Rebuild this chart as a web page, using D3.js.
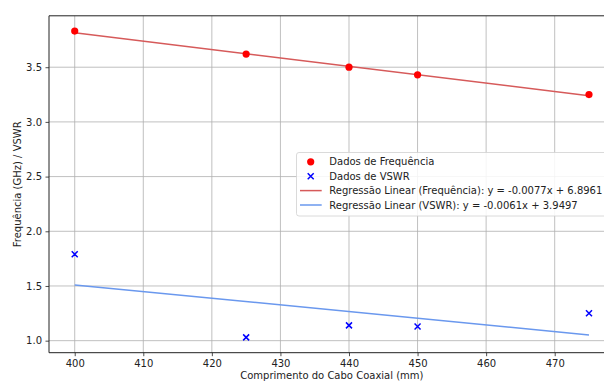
<!DOCTYPE html>
<html>
<head>
<meta charset="utf-8">
<script src="https://cdn.jsdelivr.net/npm/d3@7"></script>
<style>
  body { margin: 0; background: #fff; }
  text { font-family: "DejaVu Sans", sans-serif; fill: #222; }
</style>
</head>
<body>
<svg id="chart" width="604" height="383"></svg>
<script>
// data
const lengths = [400, 425, 440, 450, 475]
const freq = [3.83, 3.62, 3.50, 3.43, 3.25]
const vswr = [1.79, 1.03, 1.14, 1.13, 1.25]
// regression line ends (at 400 and 475)
const fitX = [400, 475]
const fitFreq = [3.816, 3.239]
const fitVswr = [1.510, 1.052]
const xTicks = [400, 410, 420, 430, 440, 450, 460, 470]
const yTicks = [1.0, 1.5, 2.0, 2.5, 3.0, 3.5]
const legendLabels = [
  'Dados de Frequência',
  'Dados de VSWR',
  'Regressão Linear (Frequência): y = -0.0077x + 6.8961',
  'Regressão Linear (VSWR): y = -0.0061x + 3.9497'
]

const margin = { top: 15.8, left: 49 }
const width = 565.7
const height = 336.9

const svg = d3.select('#chart')
const g = svg.append('g')
  .attr('transform', 'translate(' + margin.left + ',' + margin.top + ')')

const x = d3.scaleLinear().domain([396.25, 478.75]).range([0, width])
const y = d3.scaleLinear().domain([0.89, 3.97]).range([height, 0])

// grid
g.selectAll('.gx').data(xTicks).enter().append('line')
  .attr('x1', d => x(d)).attr('x2', d => x(d))
  .attr('y1', 0).attr('y2', height)
  .attr('stroke', '#b0b0b0').attr('stroke-width', 0.8)
g.selectAll('.gy').data(yTicks).enter().append('line')
  .attr('x1', 0).attr('x2', width)
  .attr('y1', d => y(d)).attr('y2', d => y(d))
  .attr('stroke', '#b0b0b0').attr('stroke-width', 0.8)

// axes
const xAxis = g.append('g')
  .attr('transform', 'translate(0,' + height + ')')
  .call(d3.axisBottom(x).tickValues(xTicks).tickSize(3.5).tickPadding(3.5).tickFormat(d3.format('d')))
const yAxis = g.append('g')
  .call(d3.axisLeft(y).tickValues(yTicks).tickSize(3.5).tickPadding(3.5).tickFormat(d3.format('.1f')))
for (const ax of [xAxis, yAxis]) {
  ax.select('.domain').remove()
  ax.selectAll('line').attr('stroke', '#222').attr('stroke-width', 0.8)
  ax.selectAll('text').attr('font-size', '10px').style('font-family', 'DejaVu Sans').attr('fill', '#222')
}

// spines
g.append('line').attr('x1', 0).attr('x2', 0).attr('y1', 0).attr('y2', height)
  .attr('stroke', '#222').attr('stroke-width', 1)
g.append('line').attr('x1', 0).attr('x2', width).attr('y1', height).attr('y2', height)
  .attr('stroke', '#222').attr('stroke-width', 1)
g.append('line').attr('x1', 0).attr('x2', width).attr('y1', 0).attr('y2', 0)
  .attr('stroke', '#222').attr('stroke-width', 1)

// regression lines
const line = d3.line().x(d => x(d[0])).y(d => y(d[1]))
g.append('path').datum(fitX.map((d, i) => [d, fitFreq[i]]))
  .attr('d', line).attr('fill', 'none').attr('stroke', '#d65a5a').attr('stroke-width', 1.5)
g.append('path').datum(fitX.map((d, i) => [d, fitVswr[i]]))
  .attr('d', line).attr('fill', 'none').attr('stroke', '#6a98ee').attr('stroke-width', 1.5)

// scatter points
g.selectAll('.pt').data(lengths).enter().append('circle')
  .attr('cx', d => x(d)).attr('cy', (d, i) => y(freq[i]))
  .attr('r', 3.6).attr('fill', 'red')

const cross = 'M-3,-3L3,3M-3,3L3,-3'
g.selectAll('.vx').data(lengths).enter().append('path')
  .attr('d', cross)
  .attr('transform', (d, i) => 'translate(' + x(d) + ',' + y(vswr[i]) + ')')
  .attr('stroke', 'blue').attr('stroke-width', 1.5).attr('fill', 'none')

// axis labels
svg.append('text')
  .attr('x', margin.left + width / 2).attr('y', 379)
  .attr('text-anchor', 'middle').attr('font-size', '10px')
  .text('Comprimento do Cabo Coaxial (mm)')
svg.append('text')
  .attr('transform', 'translate(18,' + (margin.top + height / 2) + ') rotate(-90)')
  .attr('text-anchor', 'middle').attr('dominant-baseline', 'middle').attr('font-size', '10px')
  .text('Frequência (GHz) / VSWR')

// legend
const leg = svg.append('g').attr('transform', 'translate(296.5,152.5)')
leg.append('rect')
  .attr('width', 330).attr('height', 63.5).attr('rx', 2.5)
  .attr('fill', 'white').attr('fill-opacity', 0.85)
  .attr('stroke', '#d0d0d0').attr('stroke-width', 0.8)
const rowY = i => 9.3 + i * 14.4
leg.append('circle').attr('cx', 14.2).attr('cy', rowY(0)).attr('r', 3.6).attr('fill', 'red')
leg.append('path').attr('d', cross)
  .attr('transform', 'translate(14.2,' + rowY(1) + ')')
  .attr('stroke', 'blue').attr('stroke-width', 1.5).attr('fill', 'none')
leg.append('line').attr('x1', 3.5).attr('x2', 25.2).attr('y1', rowY(2)).attr('y2', rowY(2))
  .attr('stroke', '#d65a5a').attr('stroke-width', 1.5)
leg.append('line').attr('x1', 3.5).attr('x2', 25.2).attr('y1', rowY(3)).attr('y2', rowY(3))
  .attr('stroke', '#6a98ee').attr('stroke-width', 1.5)
leg.selectAll('.lt').data(legendLabels).enter().append('text')
  .attr('x', 32.8).attr('y', (d, i) => rowY(i))
  .attr('dominant-baseline', 'central').attr('font-size', '10px')
  .text(d => d)
</script>
</body>
</html>
